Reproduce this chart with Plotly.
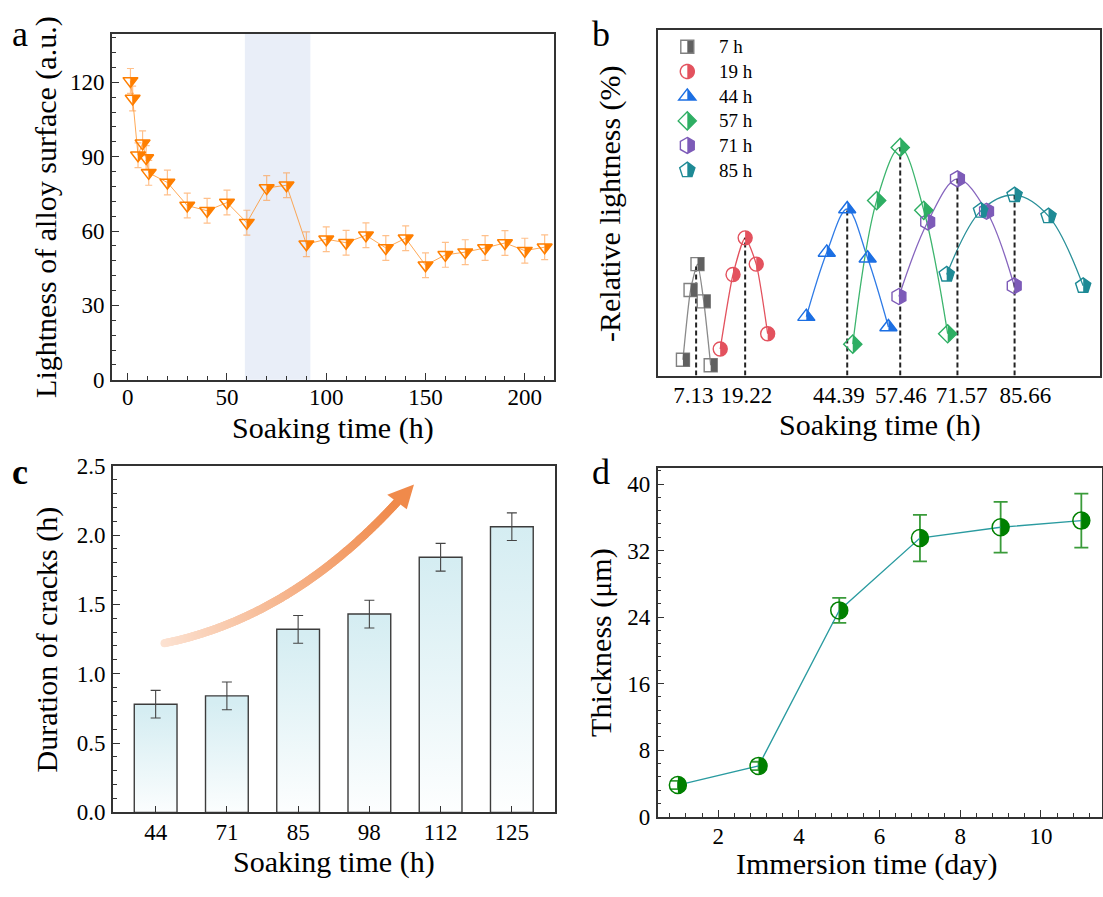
import numpy as np
import plotly.graph_objects as go

FONT = "Liberation Serif"
W, H = 1103, 897

# ---------------- data ----------------
# (a) lightness of alloy surface
a_time = [1.4, 2.5, 5.2, 7.5, 9.3, 10.6, 20, 30, 40, 50, 60, 70, 80, 90,
          100, 110, 120, 130, 140, 150, 160, 170, 180, 190, 200, 210]
a_light = [120.6, 113.5, 90.6, 95.4, 89.5, 83.5, 79.6, 70.3, 68.2, 71.5, 63.4, 77.4, 78.5, 54.7,
           56.7, 55.3, 58.3, 53.2, 57.1, 46.2, 50.4, 51.5, 53.2, 55.2, 52.1, 53.5]
a_err = [5, 5, 5, 5, 5, 5, 5, 5, 5, 5, 5, 5, 5, 5,
         5, 5, 5, 5, 5, 5, 5, 5, 5, 5, 5, 5]
a_band = [59, 92]

# (b) relative lightness curves
b_labels = ["7 h", "19 h", "44 h", "57 h", "71 h", "85 h"]
b_peaks = [7.13, 19.22, 44.39, 57.46, 71.57, 85.66]
b_peak_text = ["7.13", "19.22", "44.39", "57.46", "71.57", "85.66"]
b_x = [
    [3.88, 5.76, 7.47, 9.01, 10.72],
    [13.07, 16.23, 19.22, 21.95, 24.77],
    [34.31, 39.35, 44.39, 49.43, 54.55],
    [45.76, 51.65, 57.46, 63.27, 69.16],
    [57.14, 64.23, 71.57, 78.74, 85.57],
    [68.92, 77.38, 85.66, 94.03, 102.57],
]
b_y = [
    [4.9, 26.4, 34.4, 22.9, 3.2],
    [8.2, 31.2, 42.5, 34.4, 12.9],
    [18.2, 38.0, 51.4, 36.2, 15.0],
    [9.7, 54.0, 70.4, 51.0, 12.9],
    [24.4, 47.4, 60.7, 50.7, 27.7],
    [31.2, 50.9, 55.7, 49.2, 27.7],
]

# (c) duration of cracks
c_time = ["44", "71", "85", "98", "112", "125"]
c_dur = [0.78, 0.84, 1.32, 1.43, 1.84, 2.06]
c_err = [0.1, 0.1, 0.1, 0.1, 0.1, 0.1]

# (d) thickness
d_day = [1, 3, 5, 7, 9, 11]
d_thk = [3.8, 6.1, 24.8, 33.5, 34.8, 35.6]
d_err = [0.5, 0.5, 1.5, 2.8, 3.05, 3.25]

# ---------------- styles / layout constants ----------------
ORANGE = "#FF7F00"
B_SYM = ["square", "circle", "triangle-up", "diamond", "hexagon", "pentagon"]
B_SIZE = [13, 14, 15, 14, 16, 16]
B_EDGE = ["#808080", "#E3525E", "#1C6FE3", "#2EAE63", "#7D5BB8", "#1E8A95"]
B_FILL = ["#606060", "#E3525E", "#1C6FE3", "#2EAE63", "#7D5BB8", "#1E8A95"]
B_LINE = ["#8a8a8a", "#E3525E", "#2F7BE6", "#3DB56E", "#8665BE", "#2A9099"]
# where the tick labels of panel b sit (spread out so they do not collide)
B_TICKLABEL_POS = [6.46, 19.55, 42.31, 57.65, 72.62, 88.33]
GREEN = "#008000"


def sym_geom(sym, size):
    """full outline and right-half polygon of a plotly marker symbol (pixels, y up)"""
    r = size / 2.0
    if sym == "circle":
        t = np.linspace(0, 2 * np.pi, 49)
        full = [(r * np.cos(a), r * np.sin(a)) for a in t]
        t2 = np.linspace(np.pi / 2, -np.pi / 2, 25)
        half = [(r * np.cos(a), r * np.sin(a)) for a in t2]
    elif sym == "square":
        full = [(-r, -r), (r, -r), (r, r), (-r, r)]
        half = [(0, -r), (r, -r), (r, r), (0, r)]
    elif sym == "triangle-up":
        rt = r * 2 / np.sqrt(3)
        full = [(-rt, -r / 2), (rt, -r / 2), (0, r)]
        half = [(0, r), (rt, -r / 2), (0, -r / 2)]
    elif sym == "triangle-down":
        rt = r * 2 / np.sqrt(3)
        full = [(-rt, r / 2), (rt, r / 2), (0, -r)]
        half = [(0, r / 2), (rt, r / 2), (0, -r)]
    elif sym == "diamond":
        rd = r * 1.3
        full = [(rd, 0), (0, -rd), (-rd, 0), (0, rd)]
        half = [(0, rd), (rd, 0), (0, -rd)]
    elif sym == "hexagon":
        x = r * np.sqrt(3) / 2
        full = [(0, r), (x, r / 2), (x, -r / 2), (0, -r), (-x, -r / 2), (-x, r / 2)]
        half = [(0, r), (x, r / 2), (x, -r / 2), (0, -r)]
    else:  # pentagon
        full = [(0, r), (0.951 * r, 0.309 * r), (0.588 * r, -0.809 * r),
                (-0.588 * r, -0.809 * r), (-0.951 * r, 0.309 * r)]
        half = [(0, r), (0.951 * r, 0.309 * r), (0.588 * r, -0.809 * r), (0, -0.809 * r)]
    return full, half


def to_path(pts):
    return "M" + "L".join(f"{x:.2f},{y:.2f}" for x, y in pts) + "Z"


shapes = []
annotations = []


def add_halves(xref, yref, xs, ys, sym, size, color):
    _, half = sym_geom(sym, size)
    p = to_path(half)
    for xv, yv in zip(xs, ys):
        shapes.append(dict(type="path", xref=xref, yref=yref, xsizemode="pixel", ysizemode="pixel",
                           xanchor=xv, yanchor=yv, path=p, fillcolor=color,
                           line=dict(width=0), layer="above"))


def px(x):
    return x / W


def py(y):
    return 1 - y / H


fig = go.Figure()

# ---------------- panel a ----------------
shapes.append(dict(type="rect", xref="x", yref="y domain", x0=a_band[0], x1=a_band[1], y0=0, y1=1,
                   fillcolor="#E9EEF8", line=dict(width=0), layer="below"))
fig.add_trace(go.Scatter(
    x=a_time, y=a_light, mode="lines+markers", xaxis="x", yaxis="y",
    line=dict(color="rgba(255,140,30,0.75)", width=1),
    marker=dict(symbol="triangle-down-open", size=13, color=ORANGE, line=dict(width=1.5, color=ORANGE)),
    error_y=dict(type="data", array=a_err, color="rgba(255,150,60,0.6)", thickness=1.2, width=3.5),
    showlegend=False, hoverinfo="skip"))
add_halves("x", "y", a_time, a_light, "triangle-down", 13, ORANGE)

# ---------------- panel b ----------------
for i in range(6):
    fig.add_trace(go.Scatter(
        x=b_x[i], y=b_y[i], mode="lines", xaxis="x2", yaxis="y2",
        line=dict(color=B_LINE[i], width=1.3, shape="spline", smoothing=1.0 if i > 1 else 0.6),
        showlegend=False, hoverinfo="skip"))
for i in range(6):
    fig.add_trace(go.Scatter(
        x=[b_peaks[i], b_peaks[i]], y=[0, b_y[i][2]], mode="lines", xaxis="x2", yaxis="y2",
        line=dict(color="#222222", width=2, dash="5px,3px"), showlegend=False, hoverinfo="skip"))
for i in range(6):
    fig.add_trace(go.Scatter(
        x=b_x[i], y=b_y[i], mode="markers", xaxis="x2", yaxis="y2",
        marker=dict(symbol=B_SYM[i] + "-open", size=B_SIZE[i], color=B_EDGE[i],
                    line=dict(width=1.4, color=B_EDGE[i])),
        showlegend=False, hoverinfo="skip"))
    add_halves("x2", "y2", b_x[i], b_y[i], B_SYM[i], B_SIZE[i], B_FILL[i])

# manual legend in panel b
leg_rows = [35.7, 61.2, 86.7, 112.0, 137.3, 162.7]
for i in range(6):
    full, half = sym_geom(B_SYM[i], B_SIZE[i])
    common = dict(type="path", xref="paper", yref="paper", xsizemode="pixel", ysizemode="pixel",
                  xanchor=px(687.3), yanchor=py(leg_rows[i]), layer="above")
    shapes.append(dict(common, path=to_path(half), fillcolor=B_FILL[i], line=dict(width=0)))
    shapes.append(dict(common, path=to_path(full), fillcolor="rgba(0,0,0,0)",
                       line=dict(width=1.4, color=B_EDGE[i])))
    annotations.append(dict(xref="paper", yref="paper", x=px(716.7), y=py(leg_rows[i]),
                            xanchor="left", yanchor="middle", text=b_labels[i], showarrow=False,
                            font=dict(family=FONT, size=19, color="black")))

# ---------------- panel c ----------------
BAR_W = 0.6
for i, v in enumerate(c_dur):
    fig.add_trace(go.Scatter(
        x=[i - BAR_W / 2, i - BAR_W / 2, i + BAR_W / 2, i + BAR_W / 2, i - BAR_W / 2],
        y=[0, v, v, 0, 0], mode="lines", fill="toself", xaxis="x3", yaxis="y3",
        fillgradient=dict(type="vertical", start=0, stop=v,
                          colorscale=[[0, "#ffffff"], [1, "#d5edf2"]]),
        line=dict(color="#3c3c3c", width=1.4), showlegend=False, hoverinfo="skip"))
fig.add_trace(go.Scatter(
    x=list(range(len(c_dur))), y=c_dur, mode="markers", xaxis="x3", yaxis="y3",
    marker=dict(size=1, color="rgba(0,0,0,0)"),
    error_y=dict(type="data", array=c_err, color="#444444", thickness=1.1, width=5),
    showlegend=False, hoverinfo="skip"))

# decorative curved arrow (quadratic Bezier, category/value units)
ARROW_P0 = (0.124, 1.220)
ARROW_C = (1.894, 1.4035)
ARROW_P2 = (3.388, 2.237)
ARROW_TIP = (3.626, 2.365)
ARROW_B1 = (3.251, 2.290)
ARROW_B2 = (3.525, 2.185)
tt = np.linspace(0, 1, 260)
ax_ = (1 - tt) ** 2 * ARROW_P0[0] + 2 * (1 - tt) * tt * ARROW_C[0] + tt ** 2 * ARROW_P2[0]
ay_ = (1 - tt) ** 2 * ARROW_P0[1] + 2 * (1 - tt) * tt * ARROW_C[1] + tt ** 2 * ARROW_P2[1]
fig.add_trace(go.Scatter(
    x=ax_, y=ay_, mode="markers", xaxis="x3", yaxis="y3",
    marker=dict(size=8, color=tt, colorscale=[[0, "#FCE2D2"], [1, "#F08A4B"]], line=dict(width=0)),
    showlegend=False, hoverinfo="skip"))
shapes.append(dict(type="path", xref="x3", yref="y3",
                   path=f"M{ARROW_TIP[0]},{ARROW_TIP[1]} L{ARROW_B1[0]},{ARROW_B1[1]} L{ARROW_B2[0]},{ARROW_B2[1]} Z",
                   fillcolor="#F08A4B", line=dict(width=0), layer="above"))

# ---------------- panel d ----------------
fig.add_trace(go.Scatter(
    x=d_day, y=d_thk, mode="lines+markers", xaxis="x4", yaxis="y4",
    line=dict(color="#2A9BA0", width=1.3),
    marker=dict(symbol="circle-open", size=17, color=GREEN, line=dict(width=1.5, color=GREEN)),
    error_y=dict(type="data", array=d_err, color="#3A9B3A", thickness=1.8, width=7),
    showlegend=False, hoverinfo="skip"))
add_halves("x4", "y4", d_day, d_thk, "circle", 17, GREEN)

# ---------------- axes ----------------
TICKFONT = dict(family=FONT, size=23, color="black")
base = dict(showline=True, linecolor="#333333", linewidth=1.5, mirror=True, ticks="inside",
            tickcolor="#333333", tickwidth=1.3, ticklen=7, showgrid=False, zeroline=False,
            tickfont=TICKFONT)
basex = dict(base, ticklabelstandoff=-2)
basey = dict(base, ticklabelstandoff=1)


def minor(d):
    return dict(ticks="inside", ticklen=4, tickcolor="#333333", tickwidth=1.2, dtick=d, showgrid=False)


layout = dict(
    width=W, height=H, margin=dict(l=0, r=0, t=0, b=0),
    paper_bgcolor="white", plot_bgcolor="white", showlegend=False,
    font=dict(family=FONT, color="black"),
    xaxis=dict(basex, domain=[111.8 / W, 553.6 / W], range=[-8, 214.5], tick0=0, dtick=50,
               minor=minor(10), anchor="y", ticklabelstandoff=-4),
    yaxis=dict(basey, domain=[py(378.3), py(22.7)], range=[0, 139.5], tick0=0, dtick=30,
               minor=minor(6), anchor="x"),
    xaxis2=dict(basex, domain=[658 / W, 1099.5 / W], range=[-2.27, 106.6],
                tickvals=B_TICKLABEL_POS, ticktext=b_peak_text, ticks="", tickangle=0, anchor="y2"),
    yaxis2=dict(basey, domain=[py(374), py(18.3)], range=[0, 106.7], ticks="",
                showticklabels=False, anchor="x2"),
    xaxis3=dict(basex, domain=[112.9 / W, 554.6 / W], range=[-0.6, 5.6],
                tickvals=list(range(len(c_time))), ticktext=c_time, tickangle=0, anchor="y3"),
    yaxis3=dict(basey, domain=[py(823.3), py(466.7)], range=[0, 2.5], tick0=0, dtick=0.5,
                tickformat=".1f", minor=minor(0.1), anchor="x3"),
    xaxis4=dict(basex, domain=[657.7 / W, 1101.5 / W], range=[0.5, 11.5], tick0=0, dtick=2,
                minor=minor(0.4), anchor="y4"),
    yaxis4=dict(basey, domain=[py(827.7), py(469.3)], range=[0, 41.9], tick0=0, dtick=8,
                minor=minor(1.6), anchor="x4"),
)

# axis titles and panel letters
TITLE = dict(family=FONT, size=30, color="black")


def title(text, x, y, angle=0):
    annotations.append(dict(xref="paper", yref="paper", x=px(x), y=py(y), xanchor="center",
                            yanchor="middle", text=text, showarrow=False, textangle=angle, font=TITLE))


title("Lightness of alloy surface (a.u.)", 46, 200.5, -90)
title("Soaking time (h)", 333, 428)
title("-Relative lightness (%)", 609.8, 196.7, -90)
title("Soaking time (h)", 879.5, 425)
title("Duration of cracks (h)", 47, 645.5, -90)
title("Soaking time (h)", 334, 874)
title("Thickness (μm)", 601, 649, -90)
title("Immersion time (day)", 866.5, 876.5)

for letter, x, y, bold in [("a", 20.2, 22.9, False), ("b", 600.7, 22.9, False),
                           ("c", 20.2, 472.9, True), ("d", 600.7, 472.9, False)]:
    annotations.append(dict(xref="paper", yref="paper", x=px(x), y=py(y), xanchor="center",
                            yanchor="middle", text=f"<b>{letter}</b>" if bold else letter,
                            showarrow=False, font=dict(family=FONT, size=36, color="black")))

layout["shapes"] = shapes
layout["annotations"] = annotations
fig.update_layout(**layout)
fig.write_html("out.html")
